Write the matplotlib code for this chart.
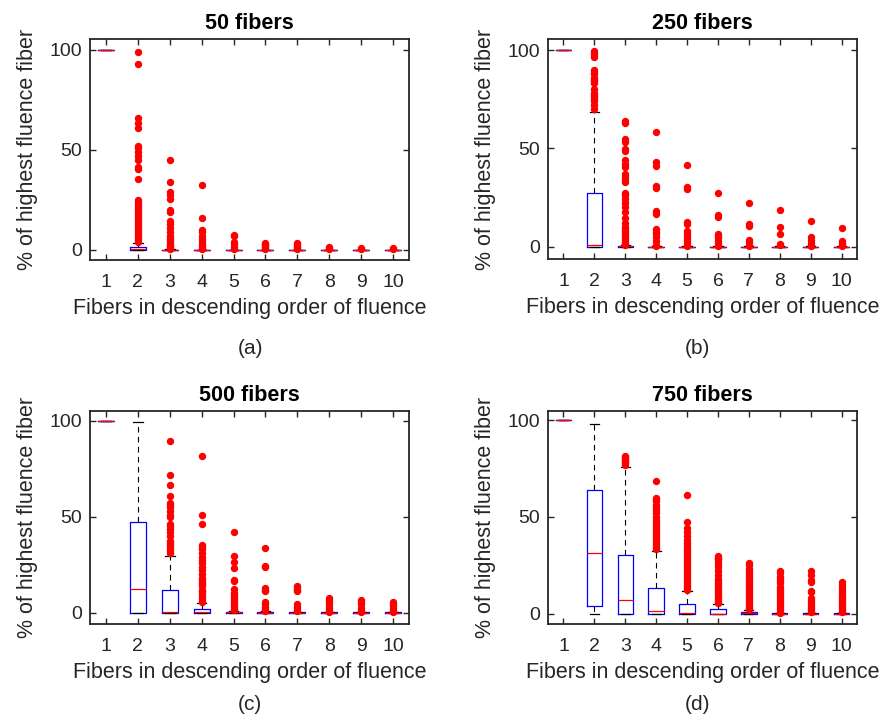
import matplotlib
matplotlib.use("Agg")
import matplotlib.pyplot as plt

plt.rcParams['font.family'] = ['Liberation Sans', 'DejaVu Sans']

fibers = [1, 2, 3, 4, 5, 6, 7, 8, 9, 10]
titles = ["50 fibers", "250 fibers", "500 fibers", "750 fibers"]
captions = ["(a)", "(b)", "(c)", "(d)"]

# ---- Panel (a): 50 fibers ----
q1_a = [100, 0, 0, 0, 0, 0, 0, 0, 0, 0]
med_a = [100, 0.3, 0, 0, 0, 0, 0, 0, 0, 0]
q3_a = [100, 1.7, 0, 0, 0, 0, 0, 0, 0, 0]
lo_a = [100, 0, 0, 0, 0, 0, 0, 0, 0, 0]
hi_a = [100, 3.7, 0.3, 0.2, 0.1, 0.1, 0.1, 0.1, 0.1, 0.1]
fl_a = [
    [],
    [98.8, 93, 66, 63.3, 61, 52, 50.8, 49.2, 47, 45.2, 41.7, 40.5, 35.3, 25, 24, 23, 22, 21,
     20, 19, 18, 17, 16, 15, 14, 13, 12, 11, 10, 9, 8, 7, 6, 5, 4],
    [45.2, 34, 29, 27.5, 25.5, 20, 19, 14.5, 13, 11, 9, 7, 6, 5, 4, 3, 2, 1.5, 1, 0.5],
    [32.5, 16, 10, 9, 7, 5.5, 4, 3, 2, 1, 0.5],
    [7.7, 7, 4, 3, 1.5, 0.5],
    [3.5, 3, 2.5, 2, 1.5, 1, 0.5],
    [3.3, 2.8, 2, 1.3, 0.8, 0.3],
    [1.3, 0.8, 0.3],
    [1, 0.5],
    [0.9, 0.5],
]

# ---- Panel (b): 250 fibers ----
q1_b = [100, 0, 0, 0, 0, 0, 0, 0, 0, 0]
med_b = [100, 1.0, 0.2, 0, 0, 0, 0, 0, 0, 0]
q3_b = [100, 27.5, 0.5, 0, 0, 0, 0, 0, 0, 0]
lo_b = [100, 0, 0, 0, 0, 0, 0, 0, 0, 0]
hi_b = [100, 68.3, 0.8, 0.2, 0.1, 0.1, 0.1, 0.1, 0.1, 0.1]
fl_b = [
    [],
    [99.5, 98.5, 97.5, 96.5, 90, 89, 88, 86, 85, 84, 83, 80, 78, 77, 76, 75, 74, 72, 70],
    [64, 63, 54.5, 53, 49.5, 48.5, 44, 42, 40.5, 37, 36, 34.5, 33, 27.5, 26, 24, 22, 20,
     17.5, 14.5, 12, 10, 9, 8, 7, 6, 5, 4, 3, 2, 1.5, 1],
    [58.5, 43, 41, 31, 30, 18, 16.5, 9, 7.5, 6.5, 5, 3, 1, 0.5],
    [41.5, 30.5, 29.5, 12.5, 11.5, 8, 7, 5.5, 4, 3, 1.5, 0.5],
    [27.5, 16, 15, 6.5, 5.5, 4.5, 3, 1.5, 0.5],
    [22, 11.5, 10.5, 3.5, 2.5, 1, 0.5],
    [18.5, 10, 6.5, 1.5, 0.8],
    [13, 5, 3.5, 2, 1, 0.5],
    [9.5, 3, 2, 1, 0.5],
]

# ---- Panel (c): 500 fibers ----
q1_c = [100, 0, 0, 0, 0, 0, 0, 0, 0, 0]
med_c = [100, 12.3, 0.5, 0.3, 0.1, 0, 0, 0, 0, 0]
q3_c = [100, 47.2, 11.8, 1.7, 0.5, 0.3, 0.2, 0.1, 0.1, 0.1]
lo_c = [100, 0, 0, 0, 0, 0, 0, 0, 0, 0]
hi_c = [100, 99.7, 29.7, 4.9, 1.0, 0.6, 0.4, 0.2, 0.2, 0.2]
fl_c = [
    [],
    [],
    [89.6, 72, 66.7, 61, 57, 56, 55, 53, 51, 50, 46, 45, 43.5, 42, 40, 37.5, 36.5, 35, 34,
     33, 32, 31],
    [81.6, 50.9, 46, 35, 34, 33, 31, 29, 27.5, 26, 24, 22, 20, 18, 17, 16, 15, 14, 12, 11,
     10, 9, 8, 7, 6, 5.5],
    [41.8, 29.6, 26.6, 23, 17, 16.5, 12.5, 10, 9, 8, 7, 6, 5, 4, 3, 2, 1.3],
    [33.5, 24.5, 23.5, 13, 12, 11, 5.5, 4.5, 3, 2, 1],
    [14, 13, 12, 11, 4.5, 3, 2, 1],
    [7.5, 6.5, 5.5, 4, 2.5, 1.5, 0.5],
    [6.5, 5.5, 4.5, 2.5, 1.5, 0.5],
    [5.5, 4.5, 3.5, 2, 1, 0.5],
]

# ---- Panel (d): 750 fibers ----
q1_d = [100, 4.0, 0, 0, 0, 0, 0, 0, 0, 0]
med_d = [100, 31.4, 6.9, 1.2, 0.2, 0.1, 0.3, 0, 0, 0]
q3_d = [100, 63.7, 30.4, 13.1, 4.8, 2.2, 0.9, 0.2, 0.2, 0.2]
lo_d = [100, 0, 0, 0, 0, 0, 0, 0, 0, 0]
hi_d = [100, 98.1, 75.6, 32.6, 11.9, 5.2, 2.0, 0.5, 0.5, 0.5]
fl_d = [
    [],
    [],
    [81.5, 81, 80.5, 80, 79.5, 79, 78.5, 78, 77],
    [68.7, 60, 59, 58, 56, 55, 53.5, 52, 50, 48.5, 47, 46, 45, 44, 43, 42, 41, 40, 39, 38,
     37, 36, 35, 34, 33.5],
    [61.2, 47.5, 44.5, 42, 40, 38, 36.5, 35, 34, 33, 32, 31, 30, 29, 28, 27, 26, 25, 24, 23,
     22, 21, 20, 19, 18, 17, 16, 15, 14, 13, 12.5],
    [30, 29, 28.5, 27, 25.5, 24, 22, 20, 18, 17, 16, 15, 14, 13, 12, 11, 10, 9, 8, 7, 6, 5.5],
    [26.3, 25, 23, 22, 21, 20, 19, 18, 17, 16, 15, 14, 13, 12, 11, 10, 9, 8, 7, 6, 5, 4, 3,
     2.3],
    [22.3, 21, 19, 18, 17, 16, 14, 13, 12, 11, 10, 9, 8, 7, 6, 5, 4, 3, 2, 1, 0.6],
    [22, 20, 17.5, 16.5, 12, 11, 8, 7, 6, 5, 4, 3, 2, 1],
    [16.5, 15, 13.5, 12, 10, 9, 8, 7, 6, 5, 4, 3, 2, 1],
]

panels = [
    (q1_a, med_a, q3_a, lo_a, hi_a, fl_a),
    (q1_b, med_b, q3_b, lo_b, hi_b, fl_b),
    (q1_c, med_c, q3_c, lo_c, hi_c, fl_c),
    (q1_d, med_d, q3_d, lo_d, hi_d, fl_d),
]

W, H = 888, 718
fig = plt.figure(figsize=(W / 100, H / 100), dpi=100)

# axes rectangles in pixels: left, top, right, bottom
rects = [(90, 39, 409, 260), (548, 39, 857, 259), (90, 411, 409, 624), (548, 411, 857, 624)]
ylims = [(-5, 105.5), (-6.3, 105.6), (-6, 105.2), (-5.3, 104.7)]
cap_pos = [(250, 348), (697, 348), (250, 705), (697, 705)]

edge = '#262626'
for i, (q1, med, q3, lo, hi, fl) in enumerate(panels):
    l, t, r, b = rects[i]
    ax = fig.add_axes([l / W, 1 - b / H, (r - l) / W, (b - t) / H])
    stats = []
    for k in range(len(fibers)):
        stats.append(dict(q1=q1[k], med=med[k], q3=q3[k], whislo=lo[k], whishi=hi[k],
                          fliers=fl[k]))
    ax.bxp(stats, positions=fibers, widths=0.5, capwidths=0.3, showfliers=True,
           boxprops=dict(color='blue', lw=0.9),
           medianprops=dict(color='red', lw=0.9),
           whiskerprops=dict(color='black', ls=(0, (5, 4)), lw=0.8),
           capprops=dict(color='black', lw=0.9),
           flierprops=dict(marker='o', markerfacecolor='red', markeredgecolor='red',
                           markersize=4.3, linestyle='none'))
    ax.set_xlim(0.5, 10.5)
    ax.set_ylim(*ylims[i])
    ax.set_xticks(fibers)
    ax.set_xticklabels([str(f) for f in fibers])
    ax.set_yticks([0, 50, 100])
    ax.tick_params(direction='in', top=True, right=True, labelsize=14, length=4,
                   width=1.0, color=edge, labelcolor=edge)
    ax.tick_params(axis='x', pad=10)
    ax.tick_params(axis='y', pad=6)
    for s in ax.spines.values():
        s.set_color(edge)
        s.set_linewidth(1.3)
    ax.set_title(titles[i], fontsize=15.5, fontweight='bold', pad=7)
    ax.set_xlabel("Fibers in descending order of fluence", fontsize=15.5, color=edge,
                  labelpad=5)
    ax.set_ylabel("% of highest fluence fiber", fontsize=15.5, color=edge, labelpad=8)
    fig.text(cap_pos[i][0] / W, 1 - cap_pos[i][1] / H, captions[i], fontsize=15,
             color=edge, ha='center', va='center')

fig.savefig("out.png", dpi=100)
